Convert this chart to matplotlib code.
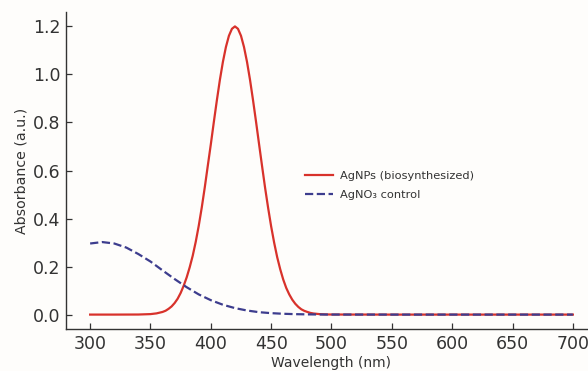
import matplotlib
matplotlib.use("Agg")
import matplotlib.pyplot as plt

# AgNPs (biosynthesized) absorbance
wl_np = [300, 320, 340, 350, 355, 360, 362.5, 365, 367.5, 370, 372.5, 375, 377.5,
         380, 382.5, 385, 387.5, 390, 392.5, 395, 397.5,
         400, 402.5, 405, 407.5, 410, 412.5, 415, 417.5, 420, 422.5, 425, 427.5,
         430, 432.5, 435, 437.5, 440, 442.5, 445, 447.5, 450, 452.5, 455, 457.5,
         460, 462.5, 465, 467.5, 470, 472.5, 475, 477.5, 480, 482.5, 485, 490,
         495, 500, 550, 600, 650, 700]
abs_np = [0.0, 0.0, 0.0003, 0.002, 0.005, 0.011, 0.016, 0.024, 0.034, 0.048, 0.066,
          0.090, 0.120, 0.155, 0.197, 0.245, 0.303, 0.370, 0.446, 0.530, 0.620,
          0.709, 0.802, 0.892, 0.977, 1.052, 1.114, 1.161, 1.190, 1.200, 1.190,
          1.161, 1.114, 1.052, 0.977, 0.892, 0.802, 0.709, 0.617, 0.527, 0.444,
          0.367, 0.299, 0.239, 0.189, 0.146, 0.111, 0.084, 0.062, 0.045, 0.032,
          0.022, 0.0155, 0.011, 0.007, 0.0046, 0.002, 0.0008, 0.0003,
          0.0, 0.0, 0.0, 0.0]

# AgNO3 control absorbance
wl_ctrl = [300, 310, 320, 330, 340, 350, 360, 370, 380, 390, 400, 410, 420, 430,
           440, 450, 460, 470, 480, 490, 500, 550, 600, 650, 700]
abs_ctrl = [0.296, 0.302, 0.296, 0.279, 0.252, 0.221, 0.184, 0.148, 0.114, 0.084,
            0.060, 0.041, 0.027, 0.017, 0.010, 0.006, 0.0034, 0.0018, 0.0009,
            0.0004, 0.0002, 0.0, 0.0, 0.0, 0.0]

label_np = "AgNPs (biosynthesized)"
label_ctrl = "AgNO\u2083 control"
yticks = [0.0, 0.2, 0.4, 0.6, 0.8, 1.0, 1.2]
xticks = [300, 350, 400, 450, 500, 550, 600, 650, 700]

txt = "#333333"
bg = "#fefdfb"

fig = plt.figure(figsize=(5.88, 3.71), dpi=100, facecolor=bg)
ax = fig.add_axes([66/588, 42/371, 531/588, 317/371], facecolor=bg)

ax.plot(wl_np, abs_np, color="#d8322b", lw=1.6, label=label_np)
ax.plot(wl_ctrl, abs_ctrl, color="#3d3d8e", lw=1.6, ls="--", label=label_ctrl)

ax.set_xlim(280, 720)
ax.set_ylim(-0.06, 1.26)
ax.set_xticks(xticks)
ax.set_yticks(yticks)
ax.set_yticklabels([f"{v:.1f}" for v in yticks])

for s in ["top", "right"]:
    ax.spines[s].set_visible(False)
for s in ["left", "bottom"]:
    ax.spines[s].set_color(txt)
    ax.spines[s].set_linewidth(1.0)

ax.tick_params(direction="in", length=4, width=0.9, colors=txt,
               labelsize=12.5, labelcolor=txt, pad=4)

ax.set_xlabel("Wavelength (nm)", fontsize=10, color=txt)
ax.set_ylabel("Absorbance (a.u.)", fontsize=10.2, color=txt)
ax.xaxis.set_label_coords(0.5, -0.085)
ax.yaxis.set_label_coords(-0.07, 0.5)

leg = ax.legend(loc="upper left", bbox_to_anchor=(0.43, 0.53), frameon=False,
                fontsize=8.2, labelcolor=txt, handlelength=2.5, handletextpad=0.6,
                labelspacing=0.75)

fig.savefig("out.png", dpi=100, facecolor=bg)
